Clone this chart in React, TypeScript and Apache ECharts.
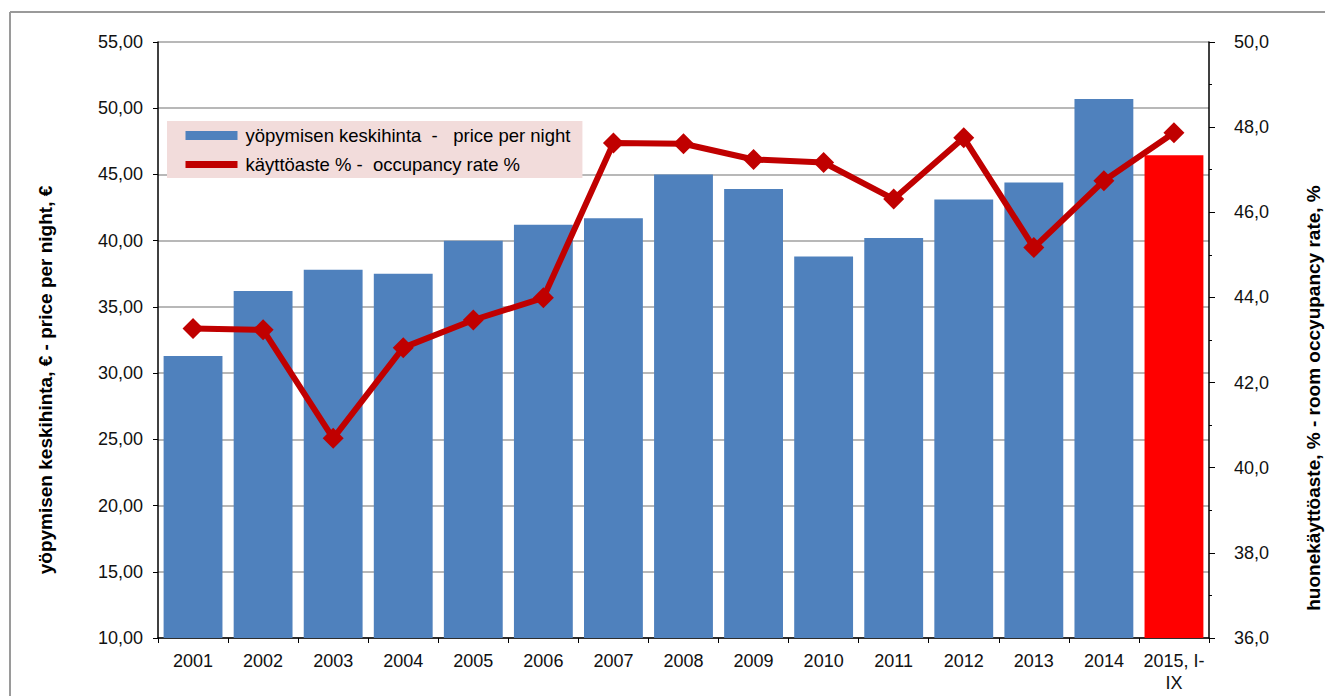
import React, { useEffect, useRef } from "react";
import * as echarts from "echarts";

const categories = ["2001", "2002", "2003", "2004", "2005", "2006", "2007", "2008", "2009", "2010", "2011", "2012", "2013", "2014", "2015, I-IX"];
const pricePerNight = [31.3, 36.2, 37.8, 37.5, 40.0, 41.2, 41.7, 45.0, 43.9, 38.8, 40.2, 43.1, 44.4, 50.7, 46.45];
const occupancyRate = [43.27, 43.24, 40.69, 42.82, 43.47, 43.99, 47.63, 47.61, 47.24, 47.17, 46.31, 47.75, 45.17, 46.74, 47.87];

const barName = "yöpymisen keskihinta  -   price per night";
const lineName = "käyttöaste % -  occupancy rate %";
const leftTitle = "yöpymisen keskihinta, € - price per night, €";
const rightTitle = "huonekäyttöaste, % - room occyupancy rate, %";

const FONT = "'Liberation Sans', Arial, sans-serif";

export default function App() {
  const ref = useRef<HTMLDivElement>(null);
  useEffect(() => {
    document.body.style.margin = "0";
    const chart = echarts.init(ref.current!, undefined, { renderer: "svg" });
    const lastIdx = categories.length - 1;
    chart.setOption({
      animation: false,
      backgroundColor: "#ffffff",
      textStyle: { fontFamily: FONT },
      grid: { left: 158, right: 116, top: 42, bottom: 58, containLabel: false },
      legend: {
        orient: "vertical",
        left: 167,
        top: 121,
        padding: [5, 12, 4, 15],
        itemGap: 10,
        itemWidth: 52,
        itemHeight: 9,
        backgroundColor: "#f2dcdb",
        textStyle: { fontSize: 18.5, color: "#000", fontFamily: FONT, padding: [0, 0, 0, 3] },
        data: [
          { name: barName, icon: "rect", itemStyle: { color: "#4f81bd" } },
          { name: lineName, lineStyle: { width: 7, color: "#c00000" }, itemStyle: { color: "#c00000" } },
        ],
      },
      xAxis: {
        type: "category",
        data: categories,
        boundaryGap: true,
        axisLine: { lineStyle: { color: "#000", width: 1.5 } },
        axisTick: { show: true, alignWithLabel: false, length: 5, lineStyle: { color: "#000" } },
        axisLabel: {
          color: "#111",
          fontSize: 18,
          fontFamily: FONT,
          margin: 12,
          lineHeight: 22,
          interval: 0,
          formatter: (v: string) => v.replace("I-IX", "I-\nIX"),
        },
        splitLine: { show: false },
      },
      yAxis: [
        {
          type: "value",
          min: 10,
          max: 55,
          interval: 5,
          position: "left",
          axisLine: { show: true, lineStyle: { color: "#000", width: 1.5 } },
          axisTick: { show: true, length: 5, lineStyle: { color: "#000" } },
          axisLabel: {
            color: "#111",
            fontSize: 18,
            fontFamily: FONT,
            margin: 15,
            formatter: (v: number) => v.toFixed(2).replace(".", ","),
          },
          splitLine: { show: true, lineStyle: { color: "#a0a0a0", width: 1.5 } },
        },
        {
          type: "value",
          min: 36,
          max: 50,
          interval: 2,
          position: "right",
          axisLine: { show: true, lineStyle: { color: "#000", width: 1.5 } },
          axisTick: { show: true, length: 6, lineStyle: { color: "#000" } },
          minorTick: { show: true, splitNumber: 2, length: 3, lineStyle: { color: "#000" } },
          axisLabel: {
            color: "#111",
            fontSize: 18,
            fontFamily: FONT,
            margin: 25,
            formatter: (v: number) => v.toFixed(1).replace(".", ","),
          },
          splitLine: { show: false },
        },
      ],
      series: [
        {
          name: barName,
          type: "bar",
          yAxisIndex: 0,
          barWidth: "84%",
          itemStyle: { color: "#4f81bd" },
          data: pricePerNight.map((v, i) =>
            i === lastIdx ? { value: v, itemStyle: { color: "#ff0000" } } : v
          ),
          z: 2,
        },
        {
          name: lineName,
          type: "line",
          yAxisIndex: 1,
          data: occupancyRate,
          symbol: "diamond",
          symbolSize: 21,
          lineStyle: { color: "#c00000", width: 6 },
          itemStyle: { color: "#c00000" },
          z: 3,
        },
      ],
      graphic: [
        {
          type: "line",
          shape: { x1: 10, y1: 12, x2: 1325, y2: 12 },
          style: { stroke: "#9a9a9a", lineWidth: 2 },
        },
        {
          type: "line",
          shape: { x1: 10, y1: 12, x2: 10, y2: 696 },
          style: { stroke: "#9a9a9a", lineWidth: 2 },
        },
        {
          type: "text",
          x: 45,
          y: 380,
          rotation: Math.PI / 2,
          style: {
            text: leftTitle,
            fontSize: 19,
            fontWeight: "bold",
            fontFamily: FONT,
            fill: "#000",
            align: "center",
            verticalAlign: "middle",
          },
        },
        {
          type: "text",
          x: 1313,
          y: 398,
          rotation: Math.PI / 2,
          style: {
            text: rightTitle,
            fontSize: 19,
            fontWeight: "bold",
            fontFamily: FONT,
            fill: "#000",
            align: "center",
            verticalAlign: "middle",
          },
        },
      ],
    });
    return () => chart.dispose();
  }, []);
  return (
    <div
      ref={ref}
      style={{ position: "fixed", left: 0, top: 0, width: 1325, height: 696 }}
    />
  );
}
